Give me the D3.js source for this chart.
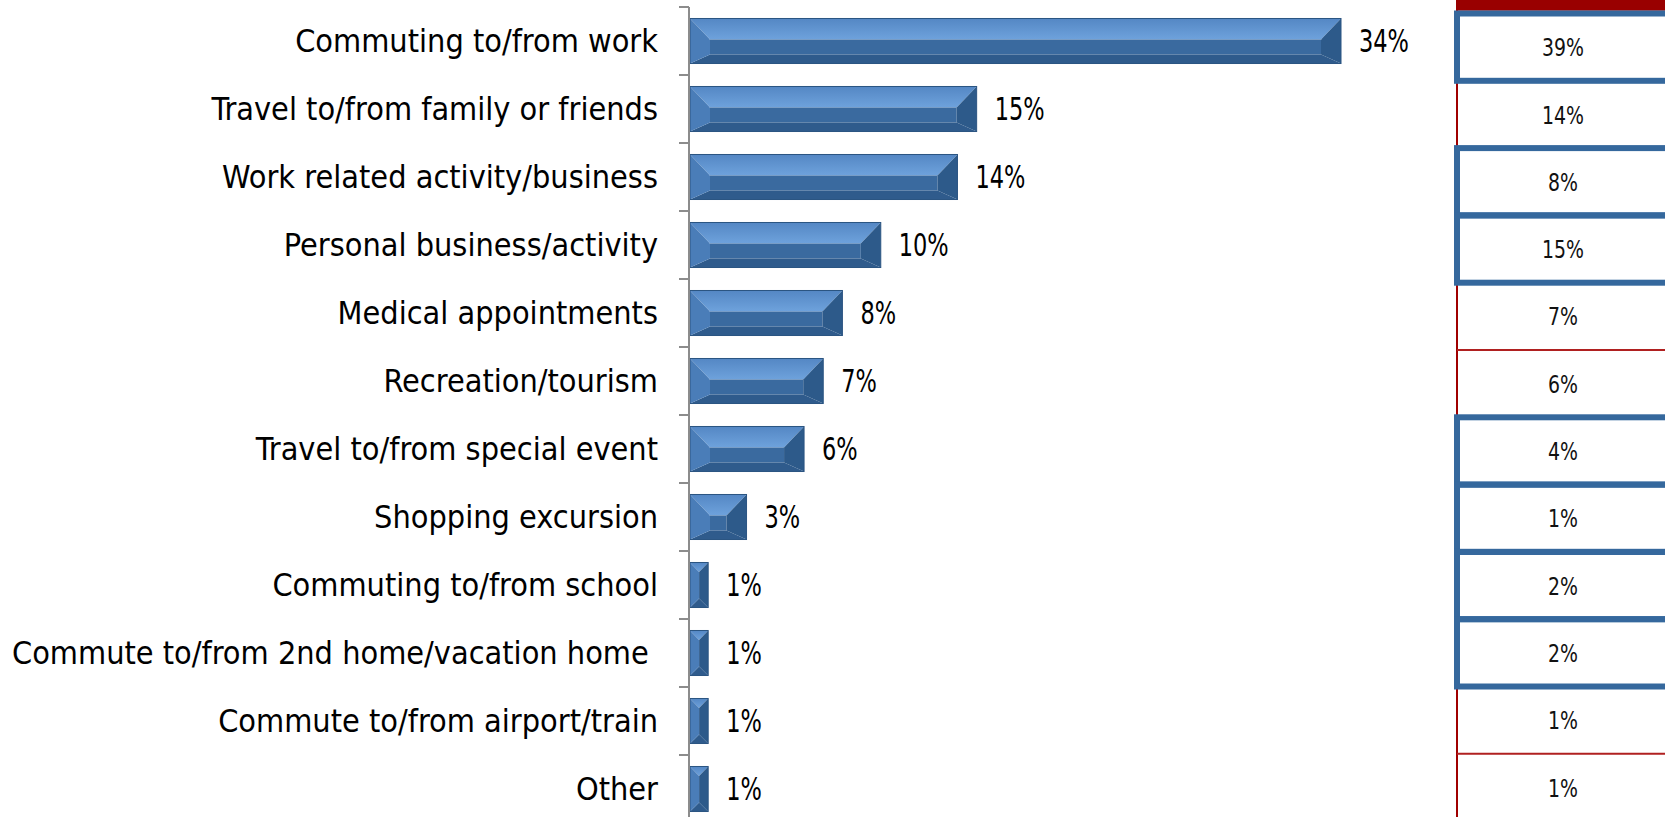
<!DOCTYPE html>
<html>
<head>
<meta charset="utf-8">
<script src="https://cdn.jsdelivr.net/npm/d3@7"></script>
<style>
  html, body { margin: 0; padding: 0; background: #ffffff; }
  svg { display: block; }
  text { white-space: pre; }
</style>
</head>
<body>
<svg id="chart" width="1665" height="817"></svg>
<script>
// ---------- DATA ----------
const categories = [
  "Commuting to/from work",
  "Travel to/from family or friends",
  "Work related activity/business",
  "Personal business/activity",
  "Medical appointments",
  "Recreation/tourism",
  "Travel to/from special event",
  "Shopping excursion",
  "Commuting to/from school",
  "Commute to/from 2nd home/vacation home ",
  "Commute to/from airport/train",
  "Other"
];
const shares = [34, 15, 14, 10, 8, 7, 6, 3, 1, 1, 1, 1];
const compareShares = [39, 14, 8, 15, 7, 6, 4, 1, 2, 2, 1, 1];
const highlighted = [true, false, true, true, false, false, true, true, true, true, false, false];

// ---------- SETUP ----------
const W = 1665, H = 817;
const svg = d3.select("#chart");
const FONT = "'DejaVu Sans Condensed', 'DejaVu Sans', sans-serif";
const TFONT = "'DejaVu Sans', sans-serif";

function fitFactor(str, size, family, target) {
  const t = svg.append("text").attr("font-size", size).attr("font-family", family).text(str);
  const w = t.node().getComputedTextLength();
  t.remove();
  return target / w;
}

const labelSize = 31.5, valueSize = 31.5, tableSize = 25;
const sLabel = fitFactor("Commuting to/from work", labelSize, FONT, 363);
const sValue = fitFactor("34%", valueSize, FONT, 50);
const sTable = fitFactor("39%", tableSize, TFONT, 42);

const axisX = 689;
const x = d3.scaleLinear().domain([0, 34]).range([axisX, 1341]);
const y = d3.scaleBand().domain(categories).range([7, 823]).paddingInner(0.338).paddingOuter(0.169);

// gradient for top bevel face
const defs = svg.append("defs");
const g1 = defs.append("linearGradient").attr("id", "topFace").attr("x1", 0).attr("y1", 0).attr("x2", 0).attr("y2", 1);
g1.append("stop").attr("offset", "0%").attr("stop-color", "#5487c4");
g1.append("stop").attr("offset", "100%").attr("stop-color", "#6ea2dc");

// ---------- BARS ----------
const bars = svg.append("g").attr("class", "bars");
categories.forEach((c, i) => {
  const x0 = x(0) + 1, x1 = x(shares[i]);
  const y0 = y(c), y1 = y0 + y.bandwidth();
  const w = x1 - x0;
  const bx = Math.min(20, w / 2);
  const bt = Math.min(21, bx * 1.05);
  const bb = 9;
  const A = [x0 + bx, y0 + bt], B = [x1 - bx, y0 + bt], C = [x1 - bx, y1 - bb], D = [x0 + bx, y1 - bb];
  const TL = [x0, y0], TR = [x1, y0], BR = [x1, y1], BL = [x0, y1];
  const poly = pts => pts.map(p => p.join(",")).join(" ");
  const g = bars.append("g");
  g.append("polygon").attr("points", poly([TL, TR, B, A])).attr("fill", "url(#topFace)");
  g.append("polygon").attr("points", poly([A, B, C, D])).attr("fill", "#3a6a9f");
  g.append("polygon").attr("points", poly([D, C, BR, BL])).attr("fill", "#2f5b8c");
  g.append("polygon").attr("points", poly([TL, A, D, BL])).attr("fill", "#4a7db8");
  g.append("polygon").attr("points", poly([TR, BR, C, B])).attr("fill", "#2d5a8a");
  g.append("rect").attr("x", x0).attr("y", y0).attr("width", w).attr("height", y1 - y0)
    .attr("fill", "none").attr("stroke", "#2b5482").attr("stroke-width", 1);
});

// ---------- AXIS ----------
const axisG = svg.append("g").attr("class", "axis");
const r0 = y.range()[0], step = y.step();
axisG.append("line").attr("x1", axisX).attr("x2", axisX).attr("y1", r0).attr("y2", H)
  .attr("stroke", "#8c8c8c").attr("stroke-width", 2);
d3.range(categories.length + 1).forEach(i => {
  const yy = r0 + i * step;
  axisG.append("line").attr("x1", axisX - 10).attr("x2", axisX).attr("y1", yy).attr("y2", yy)
    .attr("stroke", "#8c8c8c").attr("stroke-width", 2);
});

// ---------- CATEGORY LABELS ----------
const labG = svg.append("g").attr("class", "labels");
categories.forEach(c => {
  const cy = y(c) + y.bandwidth() / 2;
  labG.append("g").attr("transform", `translate(658,${cy + labelSize * 0.365}) scale(${sLabel},1)`)
    .append("text").attr("text-anchor", "end").attr("font-size", labelSize)
    .attr("font-family", FONT).attr("fill", "#000").text(c);
});

// ---------- VALUE LABELS ----------
const valG = svg.append("g").attr("class", "values");
categories.forEach((c, i) => {
  const cy = y(c) + y.bandwidth() / 2;
  valG.append("g").attr("transform", `translate(${x(shares[i]) + 18},${cy + valueSize * 0.365}) scale(${sValue},1)`)
    .append("text").attr("font-size", valueSize).attr("font-family", FONT).attr("fill", "#000")
    .text(shares[i] + "%");
});

// ---------- COMPARISON TABLE ----------
const tX0 = 1457, tX1 = 1672;
const ty = d3.scaleBand().domain(categories).range([13.5, 13.5 + 12 * 67.3]).padding(0);
const tab = svg.append("g").attr("class", "table");
// header strip
tab.append("rect").attr("x", 1456).attr("y", 0).attr("width", W - 1456).attr("height", 10.7).attr("fill", "#990000");
// red grid
tab.append("line").attr("x1", tX0).attr("x2", tX0).attr("y1", 10).attr("y2", H).attr("stroke", "#a00000").attr("stroke-width", 2);
d3.range(1, categories.length).forEach(i => {
  const yy = ty.range()[0] + i * ty.step();
  tab.append("line").attr("x1", tX0).attr("x2", tX1).attr("y1", yy).attr("y2", yy)
    .attr("stroke", "#b02020").attr("stroke-width", 2);
});
// blue highlight boxes
categories.forEach((c, i) => {
  if (!highlighted[i]) return;
  tab.append("rect").attr("x", tX0).attr("y", ty(c)).attr("width", tX1 - tX0).attr("height", ty.bandwidth())
    .attr("fill", "none").attr("stroke", "#35689d").attr("stroke-width", 6);
});
// values
categories.forEach((c, i) => {
  const cy = ty(c) + ty.bandwidth() / 2;
  tab.append("g").attr("transform", `translate(1563,${cy + tableSize * 0.365}) scale(${sTable},1)`)
    .append("text").attr("text-anchor", "middle").attr("font-size", tableSize)
    .attr("font-family", TFONT).attr("fill", "#111").text(compareShares[i] + "%");
});
</script>
</body>
</html>
